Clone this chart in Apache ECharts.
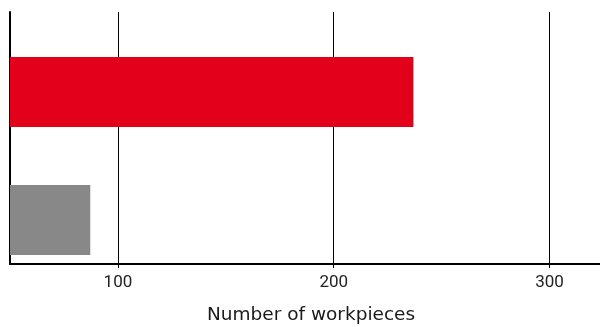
<!DOCTYPE html>
<html>
<head>
<meta charset="utf-8">
<script src="https://cdn.jsdelivr.net/npm/echarts@6/dist/echarts.min.js"></script>
<style>
html,body{margin:0;padding:0;background:#fff;}
#c{width:600px;height:327px;}
</style>
</head>
<body>
<div id="c"></div>
<script>
const categories = ['Bar A', 'Bar B'];
const values = [236, 87];
const barColors = ['#e3001b', '#888888'];
const tickLabels = [100, 200, 300];
const axisTitle = 'Number of workpieces';
const xMin = 50;
const xMax = 322;

const chart = echarts.init(document.getElementById('c'), null, {renderer: 'canvas'});
const option = {
  animation: false,
  backgroundColor: '#ffffff',
  title: {
    text: axisTitle,
    left: 207,
    top: 306,
    padding: 0,
    textStyle: {fontFamily: 'DejaVu Sans', fontSize: 18.5, fontWeight: 'normal', color: '#1a1a1a'}
  },
  grid: [
    {left: 10, right: 0, top: 12, bottom: 59},
    {left: 10, right: 0, top: 12, bottom: 63},
    {left: 10, right: 0, top: 28, bottom: 43}
  ],
  xAxis: [
    {
      gridIndex: 0, type: 'value', min: xMin, max: xMax, interval: 50,
      axisLine: {show: false}, axisTick: {show: false},
      splitLine: {show: true, lineStyle: {color: ['rgba(0,0,0,0)', '#000000'], width: 1}},
      axisLabel: {
        show: true, margin: 6, color: '#222',
        fontFamily: 'Liberation Sans Narrow, Roboto, sans-serif', fontSize: 17,
        formatter: v => tickLabels.indexOf(v) >= 0 ? String(v) : ''
      }
    },
    {
      gridIndex: 1, type: 'value', min: xMin, max: xMax,
      axisLine: {show: true, lineStyle: {color: '#000', width: 2}},
      axisTick: {show: false}, axisLabel: {show: false}, splitLine: {show: false}
    },
    {
      gridIndex: 2, type: 'value', min: xMin, max: xMax, show: false
    }
  ],
  yAxis: [
    {gridIndex: 0, type: 'value', show: false},
    {
      gridIndex: 1, type: 'category', data: categories, inverse: true,
      axisLine: {show: true, lineStyle: {color: '#000', width: 2}},
      axisTick: {show: false}, axisLabel: {show: false}, splitLine: {show: false}
    },
    {gridIndex: 2, type: 'category', data: categories, inverse: true, show: false}
  ],
  series: [{
    type: 'bar',
    xAxisIndex: 2, yAxisIndex: 2,
    data: values.map((v, i) => ({value: v, itemStyle: {color: barColors[i]}})),
    barWidth: 70,
    z: 3
  }]
};
chart.setOption(option);
</script>
</body>
</html>
